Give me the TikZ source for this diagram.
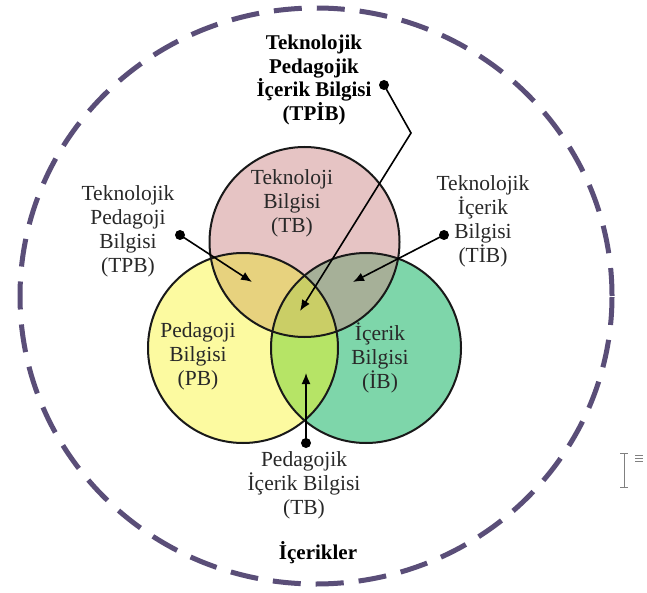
\documentclass[tikz,border=0pt]{standalone}
\usepackage{fontspec}
\setmainfont{Liberation Serif}
\usetikzlibrary{arrows.meta}
\definecolor{pinkc}{RGB}{230,196,196}
\definecolor{yellowc}{RGB}{252,250,160}
\definecolor{greenc}{RGB}{126,214,170}
\definecolor{pyc}{RGB}{231,210,126}
\definecolor{pgc}{RGB}{166,176,152}
\definecolor{ygc}{RGB}{182,228,102}
\definecolor{pygc}{RGB}{202,206,102}
\definecolor{outerc}{RGB}{90,78,120}
\definecolor{txtc}{RGB}{40,40,40}
\begin{document}
\begin{tikzpicture}[x=1pt,y=-1pt,
  lbl/.style={align=center,text=txtc,font=\fontsize{21.5}{24}\selectfont,inner sep=0pt},
  blbl/.style={lbl,text=black,font=\fontsize{21}{23.5}\selectfont\bfseries},
  dotn/.style={circle,fill=black,inner sep=0pt,minimum size=10pt},
  arr/.style={line width=1.6pt,-{Latex[length=11pt,width=9pt]}},
  circ/.style={line width=2pt,draw=black!90},
  outer/.style={line width=5pt,draw=outerc,dash pattern=on 28pt off 15pt}]
\useasboundingbox (0,0) rectangle (647,593);
\fill[white] (0,0) rectangle (647,593);
% centres
\coordinate (Pc) at (304.5,242);
\coordinate (Yc) at (243,348);
\coordinate (Gc) at (366,348);
\coordinate (Oc) at (316,296);
% outer dashed boundary
\draw[outer] (Oc) ellipse [x radius=296pt, y radius=288pt];
% fills
\fill[pinkc] (Pc) circle [radius=95pt];
\fill[yellowc] (Yc) circle [radius=95pt];
\fill[greenc] (Gc) circle [radius=95pt];
\begin{scope}
  \clip (Yc) circle [radius=95pt];
  \fill[ygc] (Gc) circle [radius=95pt];
\end{scope}
\begin{scope}
  \clip (Pc) circle [radius=95pt];
  \fill[pyc] (Yc) circle [radius=95pt];
  \fill[pgc] (Gc) circle [radius=95pt];
  \clip (Yc) circle [radius=95pt];
  \fill[pygc] (Gc) circle [radius=95pt];
\end{scope}
% outlines
\draw[circ] (Gc) circle [radius=95pt];
\draw[circ] (Pc) circle [radius=95pt];
\draw[circ] (Yc) circle [radius=95pt];
% circle labels
\node[lbl] (tb) at (292,203) {Teknoloji\\Bilgisi\\(TB)};
\node[lbl] (pb) at (198,356) {Pedagoji\\Bilgisi\\(PB)};
\node[lbl] (ib) at (380,358) {İçerik\\Bilgisi\\(İB)};
% outer labels
\node[blbl] (tpib) at (314,80) {Teknolojik\\Pedagojik\\İçerik Bilgisi\\(TPİB)};
\node[lbl] (tpb) at (128,231) {Teknolojik\\Pedagoji\\Bilgisi\\(TPB)};
\node[lbl] (tib) at (483,221) {Teknolojik\\İçerik\\Bilgisi\\(TİB)};
\node[lbl] (pib) at (304,485) {Pedagojik\\İçerik Bilgisi\\(TB)};
\node[blbl] (ic) at (318,553) {İçerikler};
% dots and connectors
\node[dotn] (d1) at (384,85) {};
\node[dotn] (d2) at (180,235) {};
\node[dotn] (d3) at (444,235) {};
\node[dotn] (d4) at (306,443) {};
\coordinate (bend) at (411,133);
\coordinate (t1) at (300,311);
\coordinate (t2) at (252,282);
\coordinate (t3) at (353,282);
\coordinate (t4) at (306,373);
\draw[arr] (d1.center) -- (bend) -- (t1);
\draw[arr] (d2.center) -- (t2);
\draw[arr] (d3.center) -- (t3);
\draw[arr] (d4.center) -- (t4);
% text cursor glyph at right
\draw[gray,line width=0.8pt] (620,453) -- (628,453) (624,453) -- (624,487) (620,487) -- (628,487);
\draw[gray,line width=0.8pt] (635,455) -- (643,455) (635,458) -- (643,458) (635,461) -- (643,461);
\end{tikzpicture}
\end{document}
